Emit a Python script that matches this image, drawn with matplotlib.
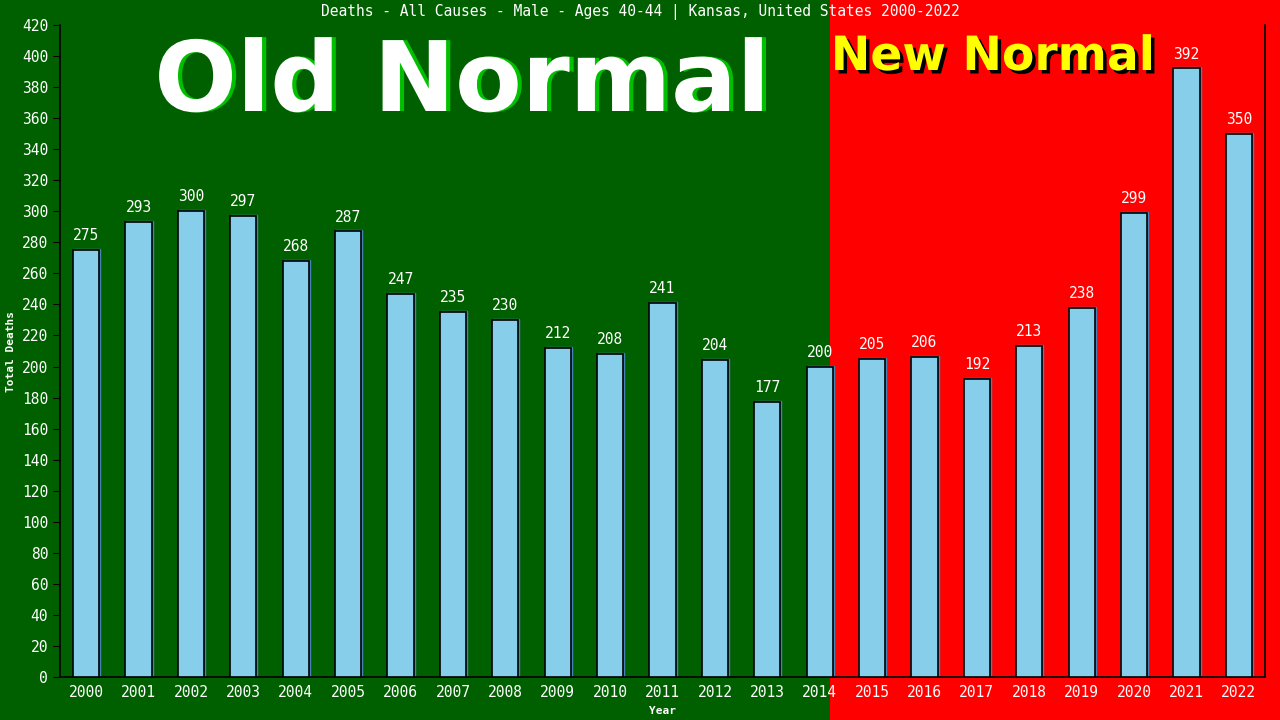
import matplotlib
matplotlib.use("Agg")
import matplotlib.pyplot as plt
import matplotlib.transforms as mtransforms
import matplotlib.patheffects as pe
from matplotlib.patches import Rectangle

years = [str(y) for y in range(2000, 2023)]
deaths = [275, 293, 300, 297, 268, 287, 247, 235, 230, 212, 208, 241, 204,
          177, 200, 205, 206, 192, 213, 238, 299, 392, 350]
title = "Deaths - All Causes - Male - Ages 40-44 | Kansas, United States 2000-2022"
yticks = list(range(0, 421, 20))

mono = "DejaVu Sans Mono"
fig = plt.figure(figsize=(12.8, 7.2), dpi=100)
split = 830 / 1280
fig.patches.append(Rectangle((0, 0), split, 1, transform=fig.transFigure,
                             facecolor="#006000", edgecolor="none", zorder=-10))
fig.patches.append(Rectangle((split, 0), 1 - split, 1, transform=fig.transFigure,
                             facecolor="#ff0000", edgecolor="none", zorder=-10))

ax = fig.add_axes([60 / 1280, 43 / 720, 1205 / 1280, 652 / 720])
ax.set_facecolor("none")
x = list(range(len(years)))
shadow = ax.transData + mtransforms.ScaledTranslation(1.0 / 100, 1.0 / 100, fig.dpi_scale_trans)
ax.bar(x, deaths, width=0.5, color="#4682b4", edgecolor="#4682b4", linewidth=1,
       transform=shadow, zorder=2)
ax.bar(x, deaths, width=0.5, color="#87ceeb", edgecolor="black", linewidth=1.2, zorder=3)
for xi, v in zip(x, deaths):
    ax.annotate(str(v), (xi, v), xytext=(0, 5), textcoords="offset points",
                ha="center", va="bottom", color="white", fontsize=10.5,
                family=mono, zorder=4)

ax.set_xlim(-0.5, len(years) - 0.5)
ax.set_ylim(0, 420)
ax.set_yticks(yticks)
ax.set_xticks(x)
ax.set_xticklabels(years)
ax.tick_params(colors="black", labelcolor="white", labelsize=10.5, length=5)
for lbl in ax.get_xticklabels() + ax.get_yticklabels():
    lbl.set_family(mono)
ax.tick_params(axis="x", length=0, pad=6)
for s in ["left", "bottom", "right"]:
    ax.spines[s].set_color("black")
    ax.spines[s].set_linewidth(1.2)
ax.spines["top"].set_visible(False)
ax.set_ylabel("Total Deaths", color="white", fontsize=8, family=mono,
              fontweight="bold", labelpad=4)
ax.set_xlabel("Year", color="white", fontsize=8, family=mono, fontweight="bold",
              labelpad=4)

fig.text(0.5, 1 - 12 / 720, title, ha="center", va="center", color="white",
         fontsize=10.5, family=mono)

# Old Normal
fig.text(462 / 1280, 1 - 111 / 720, "Old Normal", ha="center", va="baseline",
         color="white", fontsize=70, fontweight="bold", family="DejaVu Sans",
         path_effects=[pe.SimplePatchShadow(offset=(3, 0), shadow_rgbFace="#00c000",
                                            alpha=1.0), pe.Normal()])
# New Normal
fig.text(993 / 1280, 1 - 70 / 720, "New Normal", ha="center", va="baseline",
         color="#ffff00", fontsize=34, fontweight="bold", family="DejaVu Sans",
         path_effects=[pe.SimplePatchShadow(offset=(2.5, -2.5), shadow_rgbFace="black",
                                            alpha=1.0), pe.Normal()])

fig.savefig("out.png", dpi=100)
